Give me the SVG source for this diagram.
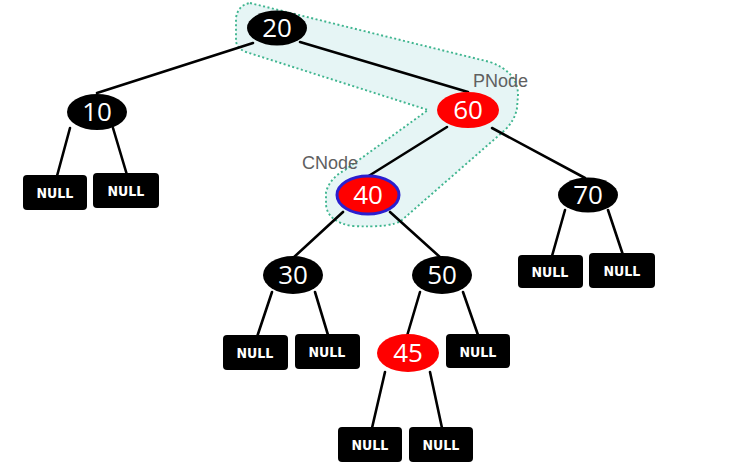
<svg xmlns="http://www.w3.org/2000/svg" width="741" height="471" viewBox="0 0 741 471">
<style>
.e{stroke:#000;stroke-width:2.6;fill:none;stroke-linecap:round}
.b{fill:#000}
.r{fill:#f00}
.n{fill:#fff;font-family:"Open Sans","DejaVu Sans",sans-serif;font-size:26px;text-anchor:middle}
.nb{fill:#000}
.nt{fill:#fff;font-family:"DejaVu Sans Condensed","Liberation Sans Narrow","DejaVu Sans",sans-serif;font-weight:bold;font-size:14px;text-anchor:middle}
.lbl{fill:#606060;font-family:"Liberation Sans",Arial,sans-serif;font-size:18px}
</style>
<rect width="741" height="471" fill="#fff"/>
<g id="highlight">
<path d="M 250,3 L 490,62 Q 518,72 518,95 L 517,108 Q 515,120 505,130 L 402,220 Q 392,228 352,226 Q 328,222 326,205 L 326,192 Q 330,178 345,170 L 428,110 L 246,52 Q 236,48 236,40 L 236,18 Q 238,5 250,3 Z" fill="#e6f5f5" stroke="#3fb58f" stroke-width="1.9" stroke-dasharray="2,2.5"/>
</g>
<g id="connectors">
<line class="e" x1="253" y1="43" x2="97" y2="93"/>
<line class="e" x1="300" y1="42" x2="468" y2="92"/>
<line class="e" x1="447" y1="127" x2="367" y2="177"/>
<line class="e" x1="492" y1="128" x2="585" y2="178"/>
<line class="e" x1="343" y1="212" x2="293" y2="258"/>
<line class="e" x1="390" y1="212" x2="441" y2="258"/>
<line class="e" x1="70" y1="128" x2="57" y2="176"/>
<line class="e" x1="113" y1="128" x2="127" y2="175"/>
<line class="e" x1="565" y1="210" x2="552" y2="256"/>
<line class="e" x1="608" y1="210" x2="623" y2="255"/>
<line class="e" x1="272" y1="292" x2="257" y2="337"/>
<line class="e" x1="315" y1="292" x2="328" y2="335"/>
<line class="e" x1="420" y1="292" x2="407" y2="336"/>
<line class="e" x1="463" y1="292" x2="478" y2="335"/>
<line class="e" x1="385" y1="372" x2="372" y2="428"/>
<line class="e" x1="430" y1="372" x2="442" y2="428"/>
</g>
<g id="labels">
<text class="lbl" x="473" y="87">PNode</text>
<text class="lbl" x="302" y="169">CNode</text>
</g>
<g id="n20"><ellipse class="b" cx="277" cy="28" rx="30" ry="17.5"/><text class="n" x="277" y="37">20</text></g>
<g id="n10"><ellipse class="b" cx="97" cy="112" rx="30" ry="18"/><text class="n" x="97" y="121">10</text></g>
<g id="n60"><ellipse class="r" cx="468" cy="110" rx="31" ry="18"/><text class="n" x="468" y="119">60</text></g>
<g id="n40"><ellipse class="r" cx="368" cy="195" rx="31" ry="19" stroke="#2a1fcf" stroke-width="3"/><text class="n" x="368" y="204">40</text></g>
<g id="n70"><ellipse class="b" cx="588" cy="195" rx="30" ry="17.5"/><text class="n" x="588" y="204">70</text></g>
<g id="n30"><ellipse class="b" cx="293" cy="275" rx="30" ry="19"/><text class="n" x="293" y="284">30</text></g>
<g id="n50"><ellipse class="b" cx="442" cy="275" rx="30" ry="19"/><text class="n" x="442" y="284">50</text></g>
<g id="n45"><ellipse class="r" cx="408" cy="353" rx="31" ry="19"/><text class="n" x="408" y="362">45</text></g>
<g id="null10L"><rect class="nb" x="23" y="175" width="64" height="35" rx="4"/><text class="nt" x="55" y="198">NULL</text></g>
<g id="null10R"><rect class="nb" x="93" y="173" width="66" height="35" rx="4"/><text class="nt" x="126" y="196">NULL</text></g>
<g id="null70L"><rect class="nb" x="518" y="255" width="65" height="33" rx="4"/><text class="nt" x="550" y="277">NULL</text></g>
<g id="null70R"><rect class="nb" x="589" y="253" width="66" height="35" rx="4"/><text class="nt" x="622" y="276">NULL</text></g>
<g id="null30L"><rect class="nb" x="223" y="335" width="65" height="35" rx="4"/><text class="nt" x="255" y="358">NULL</text></g>
<g id="null30R"><rect class="nb" x="295" y="334" width="65" height="35" rx="4"/><text class="nt" x="327" y="357">NULL</text></g>
<g id="null50R"><rect class="nb" x="446" y="334" width="64" height="34" rx="4"/><text class="nt" x="478" y="357">NULL</text></g>
<g id="null45L"><rect class="nb" x="338" y="427" width="64" height="35" rx="4"/><text class="nt" x="370" y="450">NULL</text></g>
<g id="null45R"><rect class="nb" x="409" y="427" width="64" height="35" rx="4"/><text class="nt" x="441" y="450">NULL</text></g>
</svg>
